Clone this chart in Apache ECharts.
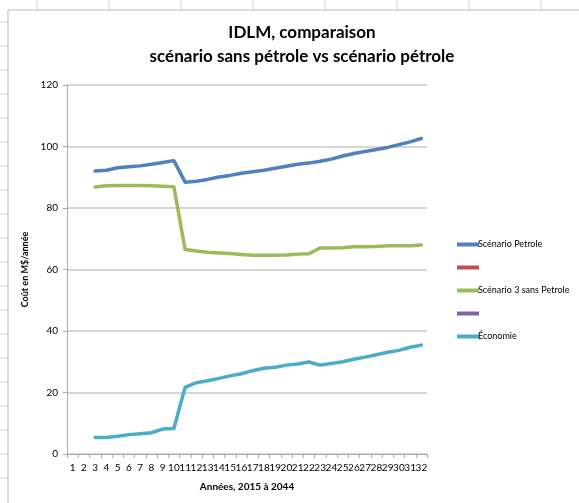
<!DOCTYPE html>
<html><head><meta charset="utf-8">
<script src="https://cdn.jsdelivr.net/npm/echarts@6/dist/echarts.min.js"></script>
<style>html,body{margin:0;padding:0;background:#fff}#c{width:579px;height:503px}</style>
</head><body><div id="c"></div>
<script>
const categories = ['1','2','3','4','5','6','7','8','9','10','11','12','13','14','15','16','17','18','19','20','21','22','23','24','25','26','27','28','29','30','31','32'];
const yTicks = [0,20,40,60,80,100,120];
const petrole = [null,null,92.0,92.3,93.1,93.4,93.7,94.2,94.8,95.4,88.4,88.7,89.3,90.1,90.6,91.3,91.8,92.3,92.9,93.6,94.2,94.6,95.2,95.9,96.9,97.7,98.4,99.0,99.7,100.6,101.5,102.6];
const sansPetrole = [null,null,86.8,87.2,87.3,87.3,87.3,87.2,87.1,86.9,66.5,66.0,65.6,65.4,65.2,64.9,64.6,64.6,64.6,64.7,65.0,65.1,67.0,67.0,67.1,67.4,67.4,67.5,67.7,67.7,67.7,68.0];
const economie = [null,null,5.4,5.4,5.8,6.3,6.6,6.9,8.1,8.3,21.7,23.2,23.8,24.6,25.4,26.1,27.1,27.9,28.2,28.9,29.3,29.9,28.9,29.4,30.0,30.8,31.5,32.3,33.1,33.7,34.7,35.4];
const emptySeries = categories.map(() => null);
const seriesNames = ['Scénario Petrole',' ','Scénario 3 sans Petrole','  ','Économie'];
const seriesColors = ['#4F81BD','#C0504D','#9BBB59','#8064A2','#4BACC6'];
const seriesData = [petrole, emptySeries, sansPetrole, emptySeries, economie];

const font = 'Lato, "Open Sans", sans-serif';
const chart = echarts.init(document.getElementById('c'));
const gridLines = [];
[37,109,181,253,325,397,469,541].forEach(x => gridLines.push({type:'line',shape:{x1:x,y1:0,x2:x,y2:10},style:{stroke:'#d0d0d0',lineWidth:1}}));
[22,46,70,94,118,142,166,190,214,238,262,286,310,334,358,382,406,430,454,478].forEach(y => gridLines.push({type:'line',shape:{x1:0,y1:y,x2:8,y2:y},style:{stroke:'#d0d0d0',lineWidth:1}}));
chart.setOption({
  animation:false,
  textStyle:{fontFamily:font},
  graphic: gridLines.concat([
    {type:'rect',shape:{x:8,y:10,width:580,height:500},style:{fill:'none',stroke:'#b8b8b8',lineWidth:1}}
  ]),
  title:{
    text:'IDLM, comparaison\nscénario sans pétrole vs scénario pétrole',
    left:297, textAlign:'center', top:16,
    textStyle:{fontFamily:font,fontSize:17,fontWeight:'bold',color:'#000',lineHeight:24}
  },
  legend:{
    orient:'vertical', left:452, top:234,
    itemWidth:22, itemHeight:4, itemGap:12,
    icon:'rect',
    data:seriesNames,
    formatter: n => n.trim(),
    textStyle:{fontFamily:font,fontSize:9,color:'#000',padding:[0,0,0,-6],height:11,lineHeight:11},
    selectedMode:false
  },
  grid:{left:67,right:152,top:85,bottom:49},
  xAxis:{
    type:'category', data:categories, boundaryGap:true,
    name:'Années, 2015 à 2044', nameLocation:'middle', nameGap:28,
    nameTextStyle:{fontFamily:font,fontSize:10,fontWeight:'bold',color:'#000'},
    axisLine:{lineStyle:{color:'#aaa',width:1}},
    axisTick:{show:true,length:4,lineStyle:{color:'#aaa'},alignWithLabel:false},
    axisLabel:{interval:0,fontSize:10,color:'#000',margin:9,fontFamily:font}
  },
  yAxis:{
    type:'value', min:0, max:120, interval:20,
    name:'Coût en M$/année', nameLocation:'middle', nameGap:33, nameRotate:90,
    nameTextStyle:{fontFamily:font,fontSize:9,fontWeight:'bold',color:'#000'},
    axisLine:{show:true,lineStyle:{color:'#aaa',width:1}},
    axisTick:{show:true,length:4,lineStyle:{color:'#aaa'}},
    axisLabel:{fontSize:10,color:'#000',margin:9,fontFamily:font,formatter:v => yTicks.includes(v) ? String(v) : ''},
    splitLine:{lineStyle:{color:'#c8c8c8',width:1.5}}
  },
  series: seriesNames.map((n,i) => ({
    name:n, type:'line', data:seriesData[i], showSymbol:false, symbol:'none',
    color:seriesColors[i],
    lineStyle:{width:3.5,color:seriesColors[i],cap:'round',join:'round'},
    connectNulls:false
  }))
});
</script></body></html>
